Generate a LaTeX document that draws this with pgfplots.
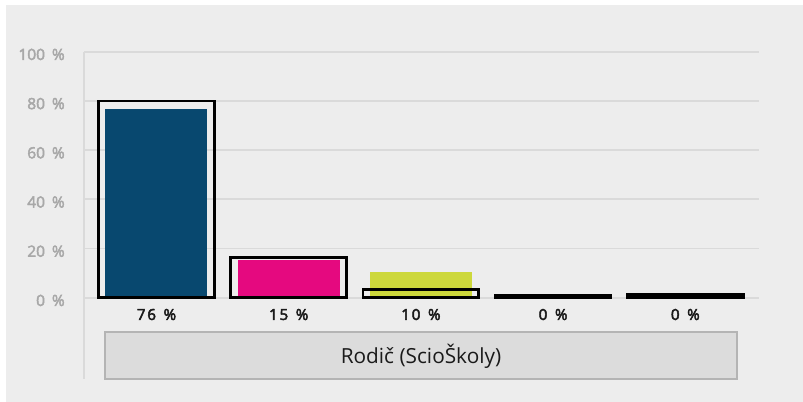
\documentclass[border=0pt]{standalone}
\usepackage{fontspec}
\setmainfont{Open Sans}
\newfontfamily\tickfont[FakeBold=3]{Open Sans}
\newfontfamily\labfont[FakeBold=3.2]{Open Sans}
\usepackage{pgfplots}
\pgfplotsset{compat=1.18}
\definecolor{bgc}{HTML}{EDEDED}
\definecolor{gridc}{HTML}{DADADA}
\definecolor{tickc}{HTML}{A8A8A8}
\definecolor{c1}{HTML}{08486F}
\definecolor{c2}{HTML}{E5097F}
\definecolor{c3}{HTML}{CDD83B}
\definecolor{boxf}{HTML}{DCDCDC}
\definecolor{boxd}{HTML}{B4B4B4}
\definecolor{txt}{HTML}{1A1A1A}
\newcommand{\lab}[2]{#1\hspace{0.12em}#2\hspace{0.5em}\%}
\begin{document}
\begin{tikzpicture}
\begin{scope}[x=0.75pt,y=0.75pt]
\fill[white] (-84.3,-104.3) rectangle (718.7,297.7);
\fill[bgc] (-78.3,-104.3) rectangle (718.7,292.7);
\filldraw[fill=boxf, draw=boxd, line width=1.5] (20.7,-34.3) rectangle (652.4,-81);
\node[font=\fontsize{15.6}{18}\selectfont, text=txt] at (336.7,-58.3) {Rodič (ScioŠkoly)};
\end{scope}
\begin{axis}[
  at={(0,0)}, anchor=south west,
  scale only axis, width=506.3pt, height=184.5pt,
  xmin=-0.546, xmax=4.56, ymin=0, ymax=100,
  xtick=\empty,
  ytick={0,20,40,60,80,100},
  yticklabels={0\hspace{0.45em}\%,20\hspace{0.45em}\%,40\hspace{0.45em}\%,60\hspace{0.45em}\%,80\hspace{0.45em}\%,100\hspace{0.45em}\%},
  yticklabel style={anchor=base east, inner sep=0pt, xshift=-14.5pt, yshift=-6.2pt, text=tickc, font=\tickfont\fontsize{11.6}{13}\selectfont},
  major tick length=0pt,
  tick style={draw=none},
  ymajorgrids, grid style={gridc, line width=1.25pt},
  axis line style={draw=none},
  clip=false,
]
\draw[gridc, line width=1.25pt] (rel axis cs:0,1) -- (rel axis cs:0,-0.3317);
% actual values (filled bars)
\addplot[ybar, bar shift=0pt, bar width=76.5pt, fill=c1, draw=none] coordinates {(0,76.6)};
\addplot[ybar, bar shift=0pt, bar width=76.5pt, fill=c2, draw=none] coordinates {(1,15.3)};
\addplot[ybar, bar shift=0pt, bar width=76.5pt, fill=c3, draw=none] coordinates {(2,10.6)};
% comparison values (outlined bars)
\addplot[ybar, bar shift=0pt, bar width=86.8pt, fill=none, draw=black, line width=2pt]
  coordinates {(0,80.0) (1,16.3) (2,3.2) (3,0.9) (4,1.3)};
\begin{scope}[every node/.style={anchor=base, yshift=-16.7pt, text=txt, font=\labfont\fontsize{11.4}{13}\selectfont}]
\node at (axis cs:0,0) {\lab{7}{6}};
\node at (axis cs:1,0) {\lab{1}{5}};
\node at (axis cs:2,0) {\lab{1}{0}};
\node at (axis cs:3,0) {0\hspace{0.5em}\%};
\node at (axis cs:4,0) {0\hspace{0.5em}\%};
\end{scope}
\end{axis}
\end{tikzpicture}
\end{document}
